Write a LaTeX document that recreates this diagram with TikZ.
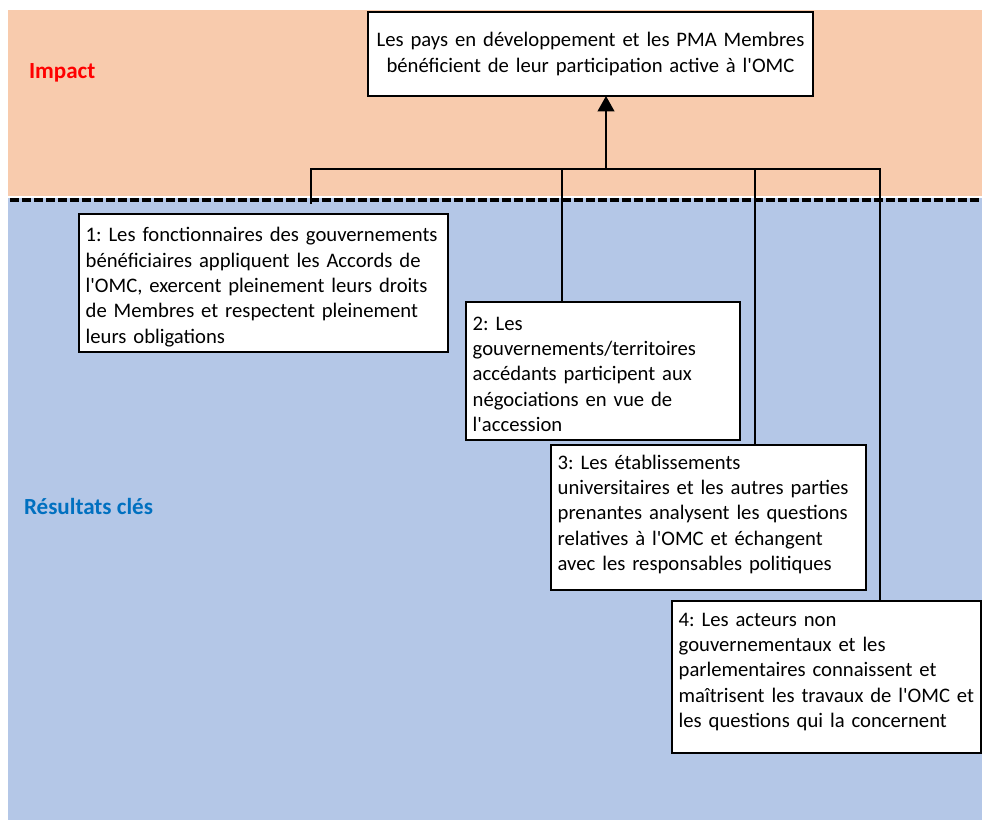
\documentclass[tikz,border=0pt]{standalone}
\usepackage{fontspec}
\setmainfont{Carlito}
\usetikzlibrary{arrows.meta}
\definecolor{impactbg}{RGB}{248,203,173}
\definecolor{resultbg}{RGB}{180,199,231}
\definecolor{resultblue}{RGB}{0,112,192}
\newcommand{\ap}{\textquotesingle}
\frenchspacing

\begin{document}
\begin{tikzpicture}[%
    x = 0.75pt, y = -0.75pt,
    every node/.style = {inner sep=0pt, outer sep=0pt},
    box/.style = {draw=black, line width=1.5pt, fill=white, anchor=north west,
                  inner xsep=5pt, inner ysep=3pt, font=\fontsize{15.5}{19}\selectfont},
    resbox/.style n args = {2}{box, align=left,
                  execute at begin node={\rule{0pt}{#1}},
                  execute at end node={\rule[-#2]{0pt}{0pt}}},
    zone/.style = {anchor=base west, font=\bfseries\fontsize{17.3}{20}\selectfont},
    link/.style = {draw=black, line width=1.4pt, -}%
  ]
  \useasboundingbox (0,0) rectangle (982,820);
  \fill[white] (0,0) rectangle (982,820);

  % the two bands
  \fill[impactbg] (8,10) rectangle (982,196);
  \fill[resultbg] (8,198) rectangle (982,820);
  \draw[line width=2.3pt, dash pattern=on 6.5pt off 2.5pt] (10,200) -- (982,200);

  \node[zone, text=red] (lblimpact) at (29,79) {Impact};
  \node[zone, text=resultblue] (lblresults) at (24,514) {Résultats clés};

  \node[box, align=center, text width=323.75pt, minimum height=63pt] (impact) at (368,12)
    {Les pays en développement et les PMA Membres\\
     bénéficient de leur participation active à l\ap OMC};

  \node[resbox={18pt}{3.5pt}, text width=266.75pt] (res1) at (79,214)
    {1: Les fonctionnaires des gouvernements\\
     bénéficiaires appliquent les Accords de\\
     l\ap OMC, exercent pleinement leurs droits\\
     de Membres et respectent pleinement\\
     leurs obligations};
  \node[resbox={18pt}{3.5pt}, text width=195.5pt] (res2) at (466,302)
    {2: Les\\
     gouvernements/territoires\\
     accédants participent aux\\
     négociations en vue de\\
     l\ap accession};
  \node[resbox={15pt}{12pt}, text width=226.25pt] (res3) at (551,445)
    {3: Les établissements\\
     universitaires et les autres parties\\
     prenantes analysent les questions\\
     relatives à l\ap OMC et échangent\\
     avec les responsables politiques};
  \node[resbox={15.75pt}{16.5pt}, text width=221.75pt] (res4) at (672,601)
    {4: Les acteurs non\\
     gouvernementaux et les\\
     parlementaires connaissent et\\
     maîtrisent les travaux de l\ap OMC et\\
     les questions qui la concernent};

  % connectors
  \coordinate (stub) at (311,204);
  \coordinate (j1) at (311,169);
  \coordinate (j2) at (562,169);
  \coordinate (j3) at (755,169);
  \coordinate (j4) at (880,169);
  \coordinate (hub) at (606,169);

  \draw[link, line join=miter] (stub) -- (j1) -- (j4) -- (j4 |- res4.north);
  \draw[link] (j2) -- (j2 |- res2.north);
  \draw[link] (j3) -- (j3 |- res3.north);
  \draw[link, -{Triangle[length=11.5pt, width=12.5pt]}] (hub) -- (hub |- impact.south);

\end{tikzpicture}
\end{document}
